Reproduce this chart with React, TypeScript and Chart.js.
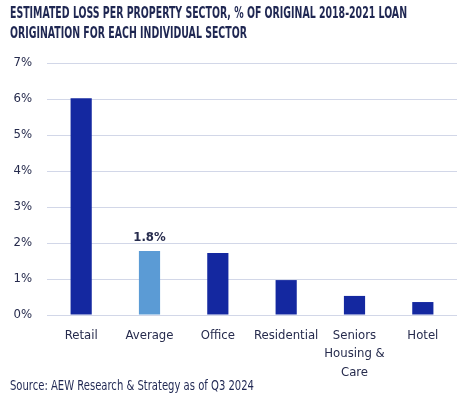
import React, { useEffect, useRef } from "react";
import { Chart, registerables } from "chart.js";

Chart.register(...registerables);

const categories: (string | string[])[] = ["Retail", "Average", "Office", "Residential", ["Seniors", "Housing &", "Care"], "Hotel"];
const lossValues: number[] = [6.02, 1.78, 1.72, 0.97, 0.53, 0.36];
const barColors: string[] = ["#1428a0", "#5b9bd5", "#1428a0", "#1428a0", "#1428a0", "#1428a0"];
const labelledIndex = 1;
const labelText = "1.8%";
const titleLines: string[] = [
  "ESTIMATED LOSS PER PROPERTY SECTOR, % OF ORIGINAL 2018-2021 LOAN",
  "ORIGINATION FOR EACH INDIVIDUAL SECTOR",
];
const sourceText = "Source: AEW Research & Strategy as of Q3 2024";

const FONT = "'DejaVu Sans Condensed', 'Liberation Sans Narrow', sans-serif";
const NAVY = "#1f2752";
const TICK = "#262b4d";

const decorPlugin = {
  id: "decor",
  afterDraw(chart: any) {
    const ctx = chart.ctx as CanvasRenderingContext2D;
    ctx.save();
    // title
    ctx.fillStyle = NAVY;
    ctx.textBaseline = "middle";
    ctx.textAlign = "left";
    ctx.font = `bold 15px ${FONT}`;
    const w0 = ctx.measureText(titleLines[0]).width;
    const factor = Math.min(1, 397 / w0);
    titleLines.forEach((line, i) => {
      const w = ctx.measureText(line).width;
      ctx.fillText(line, 10, 14 + i * 20, w * factor);
    });
    // source
    ctx.font = `14px ${FONT}`;
    const ws = ctx.measureText(sourceText).width;
    ctx.fillText(sourceText, 10, 386, Math.min(ws, 244));
    // data label
    const meta = chart.getDatasetMeta(0);
    const el = meta.data[labelledIndex];
    if (el) {
      ctx.fillStyle = TICK;
      ctx.textAlign = "center";
      ctx.textBaseline = "bottom";
      ctx.font = `bold 13px ${FONT}`;
      ctx.fillText(labelText, el.x, el.y - 7);
    }
    ctx.restore();
  },
};

export default function App() {
  const ref = useRef<HTMLCanvasElement | null>(null);
  useEffect(() => {
    document.body.style.margin = "0";
    const chart = new Chart(ref.current!, {
      type: "bar",
      data: {
        labels: categories,
        datasets: [
          {
            data: lossValues,
            backgroundColor: barColors,
            barPercentage: 0.31,
            categoryPercentage: 1,
          },
        ],
      },
      options: {
        animation: false,
        responsive: false,
        maintainAspectRatio: false,
        layout: { padding: { top: 63, right: 17, left: 10, bottom: 0 } },
        plugins: { legend: { display: false }, tooltip: { enabled: false } },
        scales: {
          x: {
            grid: { display: false, drawTicks: false },
            border: { display: false },
            ticks: { color: TICK, font: { family: FONT, size: 13, lineHeight: 1.42 }, padding: 11, maxRotation: 0 },
            afterFit(scale: any) {
              scale.height = 83;
            },
          },
          y: {
            min: 0,
            max: 7,
            grid: { color: "#d2d7e8", drawTicks: false, lineWidth: 1 },
            border: { display: false },
            ticks: {
              stepSize: 1,
              color: TICK,
              font: { family: FONT, size: 13 },
              padding: 15,
              callback: (v: any) => `${v}%`,
            },
            afterFit(scale: any) {
              scale.width = 37;
            },
          },
        },
      },
      plugins: [decorPlugin],
    });
    return () => chart.destroy();
  }, []);
  return (
    <div style={{ width: 474, height: 398, background: "#fff" }}>
      <canvas ref={ref} width={474} height={398} />
    </div>
  );
}
